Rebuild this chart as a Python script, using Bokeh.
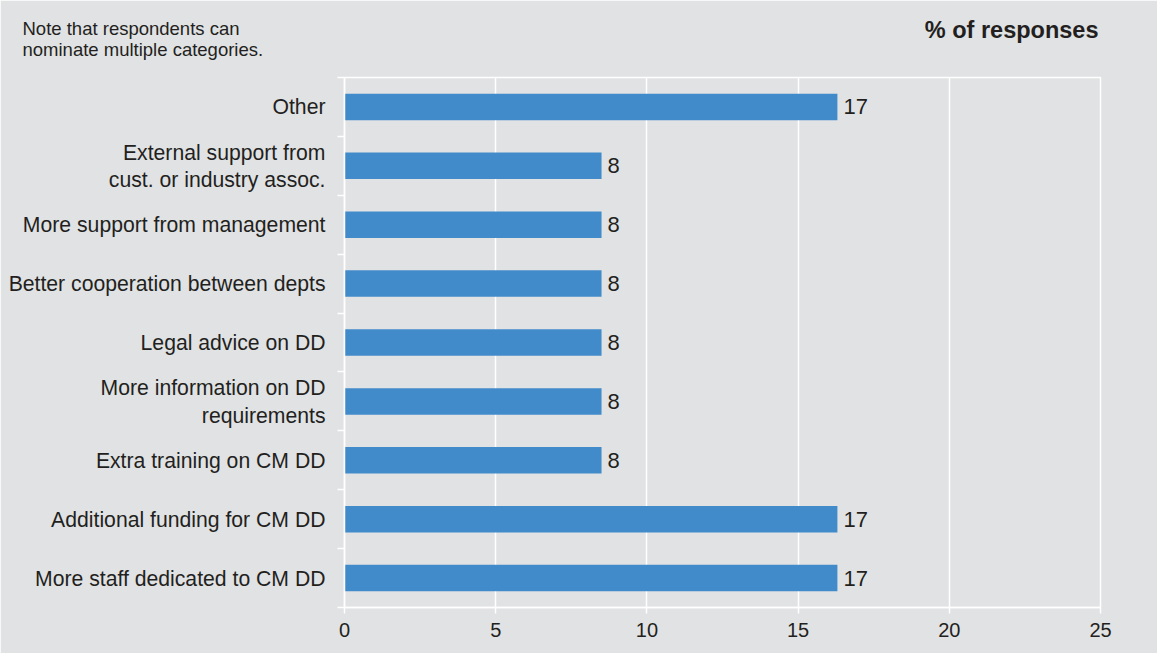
from bokeh.plotting import figure
from bokeh.models import Range1d, FixedTicker, Label
from bokeh.core.properties import value
from bokeh.embed import file_html
from bokeh.resources import INLINE

# Data (bottom to top)
categories = [
    "More staff dedicated to CM DD",
    "Additional funding for CM DD",
    "Extra training on CM DD",
    "More information on DD\nrequirements",
    "Legal advice on DD",
    "Better cooperation between depts",
    "More support from management",
    "External support from\ncust. or industry assoc.",
    "Other",
]
bar_values = [16.3, 16.3, 8.5, 8.5, 8.5, 8.5, 8.5, 8.5, 16.3]
value_labels = ["17", "17", "8", "8", "8", "8", "8", "8", "17"]
x_ticks = [0, 5, 10, 15, 20, 25]
note_lines = ["Note that respondents can", "nominate multiple categories."]
title_text = "% of responses"

FONT = "Liberation Sans"
BG = "#E1E2E4"
BAR = "#428BCA"
TXT = "#231F20"

W, H = 1157, 653
LEFT, RIGHT, TOP, BOTTOM = 344, 57, 77, 46

p = figure(width=W, height=H, output_backend="svg", toolbar_location=None,
           x_range=Range1d(0, 25), y_range=Range1d(-0.5, len(categories) - 0.5),
           min_border_left=LEFT, min_border_right=RIGHT, min_border_top=TOP,
           min_border_bottom=BOTTOM)
p.background_fill_color = BG
p.border_fill_color = BG
p.outline_line_color = "white"
p.outline_line_width = 1.5

ys = list(range(len(categories)))
p.hbar(y=ys, right=bar_values, left=0, height=0.45, color=BAR, line_color=None)
p.text(x=bar_values, y=ys, text=value_labels, x_offset=6,
       text_baseline="middle", text_align="left",
       text_font=value(FONT), text_font_size="22px", text_color=TXT)

# x axis
p.xaxis.ticker = FixedTicker(ticks=x_ticks)
p.xaxis.axis_line_color = "white"
p.xaxis.axis_line_width = 1.5
p.xaxis.major_tick_line_color = "white"
p.xaxis.major_tick_line_width = 1.5
p.xaxis.major_tick_out = 6
p.xaxis.major_tick_in = 0
p.xaxis.minor_tick_line_color = None
p.xaxis.major_label_standoff = 9
p.xaxis.major_label_text_font = FONT
p.xaxis.major_label_text_font_size = "20px"
p.xaxis.major_label_text_color = TXT

# y axis
p.yaxis.ticker = FixedTicker(ticks=ys, minor_ticks=[i - 0.5 for i in range(len(categories) + 1)])
p.yaxis.major_label_overrides = {i: c for i, c in enumerate(categories)}
p.yaxis.axis_line_color = "white"
p.yaxis.axis_line_width = 1.5
p.yaxis.major_tick_line_color = None
p.yaxis.major_tick_out = 0
p.yaxis.major_tick_in = 0
p.yaxis.minor_tick_line_color = "white"
p.yaxis.minor_tick_line_width = 1.5
p.yaxis.minor_tick_out = 7
p.yaxis.minor_tick_in = 0
p.yaxis.major_label_standoff = 12
p.yaxis.major_label_text_font = FONT
p.yaxis.major_label_text_font_size = "21.2px"
p.yaxis.major_label_text_color = TXT

p.xgrid.ticker = FixedTicker(ticks=x_ticks)
p.xgrid.grid_line_color = "white"
p.xgrid.grid_line_width = 1.5
p.ygrid.grid_line_color = None

# Note and title in the top panel (each label gets its own stacked box there;
# the y offsets below are relative to those boxes)
note_y = [49, 7]
for line, yy in zip(note_lines, note_y):
    p.add_layout(Label(x=22 - LEFT, y=yy, x_units="screen", y_units="screen",
                       text=line, text_font=FONT, text_font_size="18.5px",
                       text_color=TXT, text_align="left", text_baseline="alphabetic"),
                 "above")
p.add_layout(Label(x=1098 - LEFT, y=6, x_units="screen", y_units="screen",
                   text=title_text, text_font=FONT, text_font_size="23.5px",
                   text_font_style="bold", text_color=TXT, text_align="right",
                   text_baseline="alphabetic"),
             "above")

open("out.html", "w").write(file_html(p, INLINE))
